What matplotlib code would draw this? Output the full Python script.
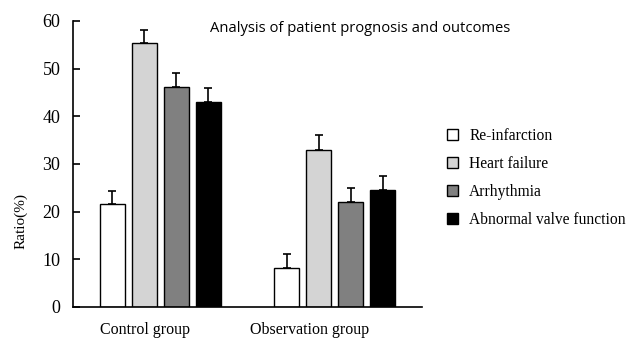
import numpy as np
import matplotlib.pyplot as plt

groups = ["Control group", "Observation group"]
outcomes = ["Re-infarction", "Heart failure", "Arrhythmia", "Abnormal valve function"]
control = [21.6, 55.3, 46.1, 43.0]
observation = [8.2, 32.9, 22.0, 24.5]
control_err = [2.7, 2.8, 2.9, 2.9]
observation_err = [2.9, 3.1, 2.9, 3.0]
colors = ["white", "#d4d4d4", "#808080", "black"]

fig = plt.figure(figsize=(6.28, 3.38), dpi=100)
ax = fig.add_axes([0.116, 0.092, 0.556, 0.846])

serif = "Liberation Serif"
centers = np.array([0.0, 5.45])
values = np.array([control, observation])
errs = np.array([control_err, observation_err])

for i, name in enumerate(outcomes):
    x = centers + (i - 1.5)
    ax.bar(x, values[:, i], width=0.78, color=colors[i], edgecolor="black",
           linewidth=1.0, label=name, zorder=2)
    ax.errorbar(x, values[:, i], yerr=[np.zeros(2), errs[:, i]], fmt="none",
                ecolor="black", elinewidth=1.2, capsize=3, capthick=1.2, zorder=3)

ax.set_xlim(-2.73, 8.17)
ax.set_ylim(0, 60)
ax.set_yticks(range(0, 61, 10))
ax.set_xticks(centers + np.array([-0.48, -0.8]))
ax.set_xticklabels(groups, fontfamily=serif, fontsize=11.5)
ax.tick_params(axis="x", length=0, pad=11)
ax.tick_params(axis="y", direction="in", length=5, width=1.2, labelsize=13, pad=9)
for lab in ax.get_yticklabels():
    lab.set_fontfamily(serif)
ax.spines["top"].set_visible(False)
ax.spines["right"].set_visible(False)
ax.spines["left"].set_linewidth(1.2)
ax.spines["bottom"].set_linewidth(1.2)
ax.set_ylabel("Ratio(%)", fontfamily=serif, fontsize=11)
ax.yaxis.set_label_coords(-0.13, 0.30)

fig.text(0.573, 0.917, "Analysis of patient prognosis and outcomes",
         fontfamily="Open Sans", fontsize=10.6, ha="center", va="center")

fig.legend(loc="upper left", bbox_to_anchor=(0.712, 0.622), frameon=False,
           prop={"family": serif, "size": 11.2}, handlelength=0.72,
           handleheight=0.72, handletextpad=0.7, labelspacing=0.78,
           borderpad=0, borderaxespad=0)

fig.savefig("out.png", dpi=100)
